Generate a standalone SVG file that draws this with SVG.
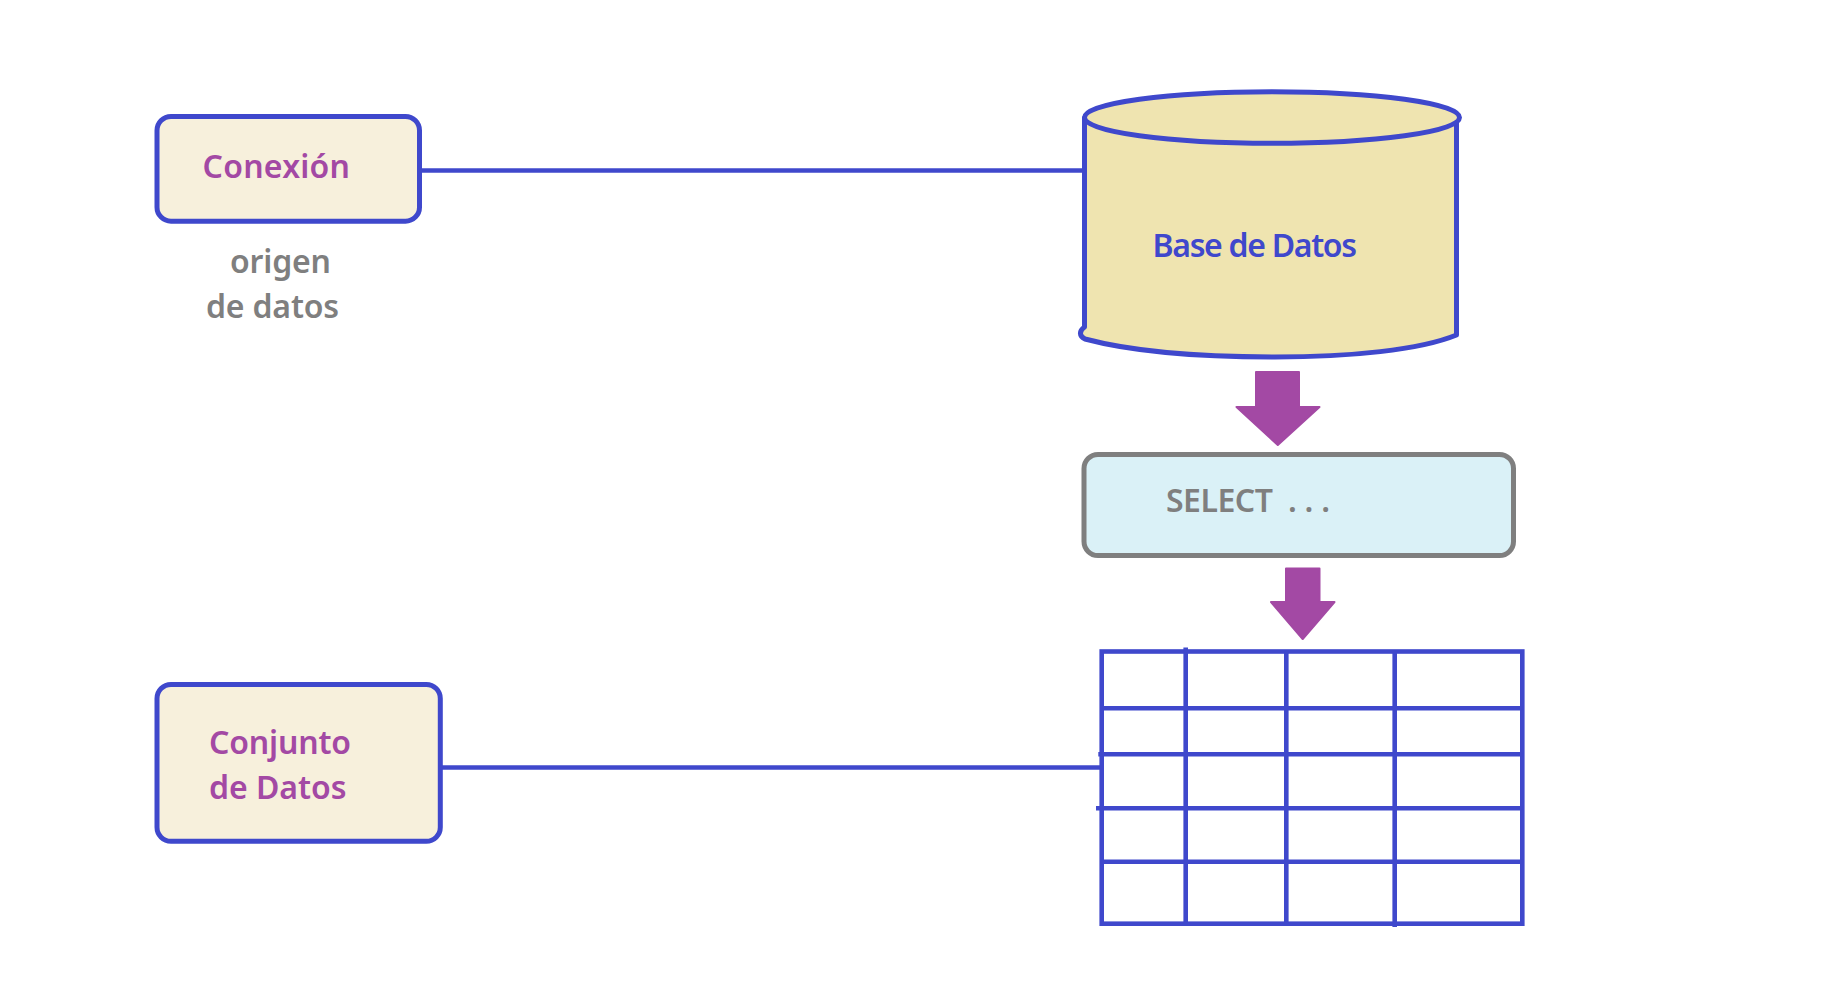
<svg xmlns="http://www.w3.org/2000/svg" width="1831" height="1001" viewBox="0 0 1831 1001">
<style>
.box{fill:#F7F0DC;stroke:#3F48CC;stroke-width:5}
.sel{fill:#DAF1F7;stroke:#7F7F7F;stroke-width:5}
.cyl{fill:#EFE4B0;stroke:#3F48CC;stroke-width:5;stroke-linejoin:round}
.ln{fill:none;stroke:#3F48CC;stroke-width:4.6}
.arr{fill:#A349A4;stroke:#A349A4;stroke-width:2;stroke-linejoin:round}
text{font-family:"Noto Sans","Open Sans",sans-serif;font-weight:600;font-size:32px}
.p{fill:#A349A4}.g{fill:#7F7F7F}.b{fill:#3F48CC}
</style>
<rect width="1831" height="1001" fill="#fff"/>
<g id="connectors">
<line class="ln" x1="420" y1="170.5" x2="1086" y2="170.5"/>
<line class="ln" x1="440" y1="767.5" x2="1101" y2="767.5"/>
<path class="arr" d="M1256 372H1299V407H1319.500L1277.800 445L1236.500 407H1256Z"/>
<path class="arr" d="M1286 568.500H1319.500V602H1334.500L1302.700 639L1271 602H1286Z"/>
</g>
<g id="conexion">
<rect class="box" x="157" y="116.500" width="262.500" height="104.700" rx="14"/>
<text class="p" x="202.500" y="178.300" textLength="147.500" lengthAdjust="spacing">Conexión</text>
</g>
<g id="origen-label">
<text class="g" x="230" y="273" textLength="101" lengthAdjust="spacing">origen</text>
<text class="g" x="206" y="317.700" textLength="133" lengthAdjust="spacing">de datos</text>
</g>
<g id="base-de-datos">
<path class="cyl" d="M1084.500 118V327C1079 331 1079 336 1085 339C1130 351 1200 357 1275 357C1350 357 1420 350 1456.500 335V118Z"/>
<ellipse class="cyl" cx="1272" cy="117.500" rx="187.500" ry="25.800"/>
<text class="b" x="1152.500" y="256.700" textLength="204.500" lengthAdjust="spacing">Base de Datos</text>
</g>
<g id="select">
<rect class="sel" x="1084" y="454.500" width="429.500" height="101" rx="14"/>
<text class="g" x="1166" y="511.700" textLength="107" lengthAdjust="spacing">SELECT</text>
<text class="g" x="1288" y="511.700" textLength="42" lengthAdjust="spacing">...</text>
</g>
<g id="conjunto">
<rect class="box" x="157" y="684.500" width="283.300" height="156.800" rx="14"/>
<text class="p" x="209" y="754.300" textLength="142" lengthAdjust="spacing">Conjunto</text>
<text class="p" x="209" y="799.300" textLength="137.500" lengthAdjust="spacing">de Datos</text>
</g>
<g id="tabla">
<rect class="ln" x="1101.700" y="651.500" width="420.600" height="272.200"/>
<path class="ln" d="M1185.700 647.500V923.700M1286.300 651.500V923.700M1394.700 651.500V927M1101.700 708.300H1522.300M1098.300 754.300H1522.300M1096 808.300H1522.300M1101.700 861.700H1522.300"/>
</g>
</svg>
